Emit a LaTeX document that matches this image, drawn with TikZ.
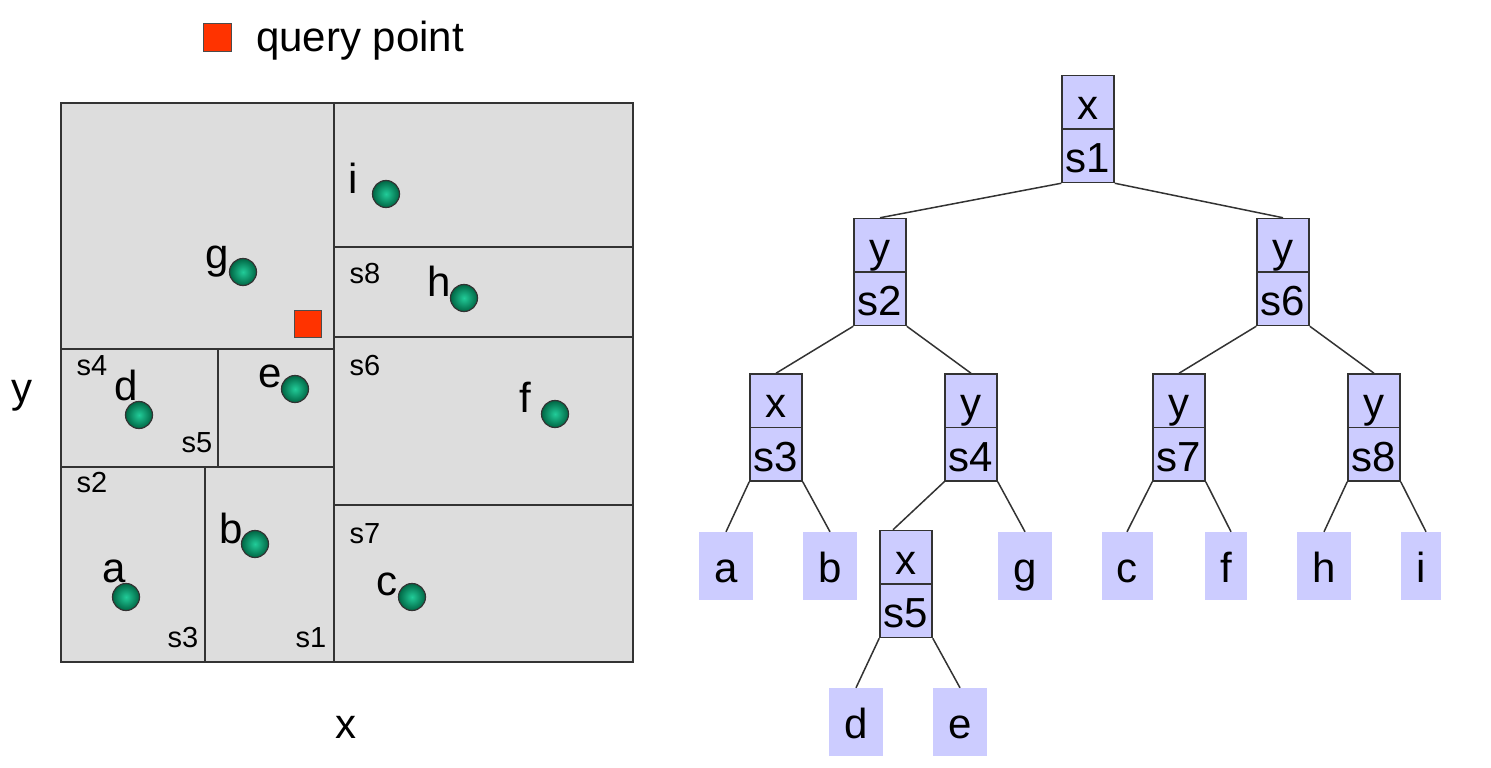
\documentclass[tikz,border=0pt]{standalone}
\usepackage{fontspec}
\setmainfont{Liberation Sans}
\usetikzlibrary{shapes.multipart}
\definecolor{boxc}{HTML}{CCCCFF}
\definecolor{linec}{HTML}{333333}
\definecolor{panelc}{HTML}{DDDDDD}
\definecolor{qc}{HTML}{FF3300}
\definecolor{dotlight}{HTML}{22CC99}
\definecolor{dotdark}{HTML}{006644}
\newcommand{\bigf}{\fontsize{42}{44}\selectfont}
\newcommand{\smallf}{\fontsize{29}{31}\selectfont}
\newcommand{\prt}{\rule[-9pt]{0pt}{52pt}}
\newcommand{\lft}{\rule[-18pt]{0pt}{68pt}}
\tikzset{
  inode/.style={rectangle split, rectangle split parts=2, draw=linec, fill=boxc,
    minimum width=52pt, inner xsep=0pt, inner ysep=0pt, line width=1.5pt, font=\bigf, align=center},
  leaf/.style={rectangle, fill=boxc, inner xsep=15pt, inner ysep=0pt, font=\bigf},
  edge/.style={draw=linec, line width=1.5pt},
  pt/.style={circle, minimum size=27pt, inner sep=0pt, draw=black!80, line width=1.2pt,
    shading=radial, inner color=dotlight, outer color=dotdark},
  qsq/.style={rectangle, minimum size=27pt, inner sep=0pt, fill=qc, draw=black!70, line width=1pt},
  plab/.style={anchor=base, inner sep=0pt, font=\bigf},
  slab/.style={anchor=base, inner sep=0pt, font=\smallf},
  divline/.style={draw=linec, line width=1.6pt}
}
\begin{document}
\begin{tikzpicture}[x=1pt,y=-1pt]
\useasboundingbox (0,0) rectangle (1491,768);
% legend
\node[qsq, minimum size=28pt] (legsq) at (217,38) {};
\node[anchor=base west, inner sep=0pt, font=\bigf] (legtxt) at (256,52) {query point};
% panel
\draw[fill=panelc, draw=linec, line width=2.4pt] (61,103) rectangle (633,662);
\draw[divline] (334,103) -- (334,662);
\draw[divline] (334,247) -- (633,247);
\draw[divline] (334,337) -- (633,337);
\draw[divline] (334,505) -- (633,505);
\draw[divline] (61,349) -- (334,349);
\draw[divline] (61,467) -- (334,467);
\draw[divline] (218,349) -- (218,467);
\draw[divline] (205,467) -- (205,662);
% region labels
\node[slab] (ls8) at (365,283) {s8};
\node[slab] (ls4) at (92,375) {s4};
\node[slab] (ls5) at (197,452) {s5};
\node[slab] (ls6) at (365,375) {s6};
\node[slab] (ls2) at (92,492) {s2};
\node[slab] (ls7) at (365,543) {s7};
\node[slab] (ls3) at (183,647) {s3};
\node[slab] (ls1) at (311,647) {s1};
% points
\node[pt] (pi) at (386,194) {};
\node[pt] (pg) at (243,272) {};
\node[pt] (ph) at (464,298) {};
\node[pt] (pd) at (139,415) {};
\node[pt] (pe) at (295,389) {};
\node[pt] (pf) at (555,414) {};
\node[pt] (pb) at (255,544) {};
\node[pt] (pa) at (126,597) {};
\node[pt] (pc) at (412,597) {};
\node[qsq] (query) at (308,324) {};
\node[plab] (li) at (353,193) {i};
\node[plab] (lg) at (217,268) {g};
\node[plab] (lh) at (439,296) {h};
\node[plab] (ld) at (126,400) {d};
\node[plab] (le) at (270,387) {e};
\node[plab] (lf) at (525,412) {f};
\node[plab] (lb) at (231,543) {b};
\node[plab] (la) at (114,582) {a};
\node[plab] (lc) at (387,595) {c};
% axes
\node[plab] (ax) at (346,738) {x};
\node[plab] (ay) at (22,402) {y};
% tree
\node[inode] (s1) at (1088,129) {\prt x\nodepart{two}\prt s1};
\node[inode] (s2) at (880,272) {\prt y\nodepart{two}\prt s2};
\node[inode] (s6) at (1283,272) {\prt y\nodepart{two}\prt s6};
\node[inode] (s3) at (776,427.5) {\prt x\nodepart{two}\prt s3};
\node[inode] (s4) at (971,427.5) {\prt y\nodepart{two}\prt s4};
\node[inode] (s7) at (1179,427.5) {\prt y\nodepart{two}\prt s7};
\node[inode] (s8) at (1374,427.5) {\prt y\nodepart{two}\prt s8};
\node[inode] (s5) at (906,584) {\prt x\nodepart{two}\prt s5};
\node[leaf] (a) at (726,566) {\lft a};
\node[leaf] (b) at (830,566) {\lft b};
\node[leaf] (g) at (1025,566) {\lft g};
\node[leaf] (c) at (1127,566) {\lft c};
\node[leaf] (f) at (1226,566) {\lft f};
\node[leaf] (h) at (1324,566) {\lft h};
\node[leaf] (i) at (1421,566) {\lft i};
\node[leaf] (d) at (856,722) {\lft d};
\node[leaf] (e) at (960,722) {\lft e};
\draw[edge] (s1.south west) -- (s2.north);
\draw[edge] (s1.south east) -- (s6.north);
\draw[edge] (s2.south west) -- (s3.north);
\draw[edge] (s2.south east) -- (s4.north);
\draw[edge] (s6.south west) -- (s7.north);
\draw[edge] (s6.south east) -- (s8.north);
\draw[edge] (s3.south west) -- (a.north);
\draw[edge] (s3.south east) -- (b.north);
\draw[edge] (s4.south west) -- ([xshift=-13pt]s5.north);
\draw[edge] (s4.south east) -- (g.north);
\draw[edge] (s5.south west) -- (d.north);
\draw[edge] (s5.south east) -- (e.north);
\draw[edge] (s7.south west) -- (c.north);
\draw[edge] (s7.south east) -- ([xshift=5pt]f.north);
\draw[edge] (s8.south west) -- (h.north);
\draw[edge] (s8.south east) -- ([xshift=5pt]i.north);
\end{tikzpicture}
\end{document}
